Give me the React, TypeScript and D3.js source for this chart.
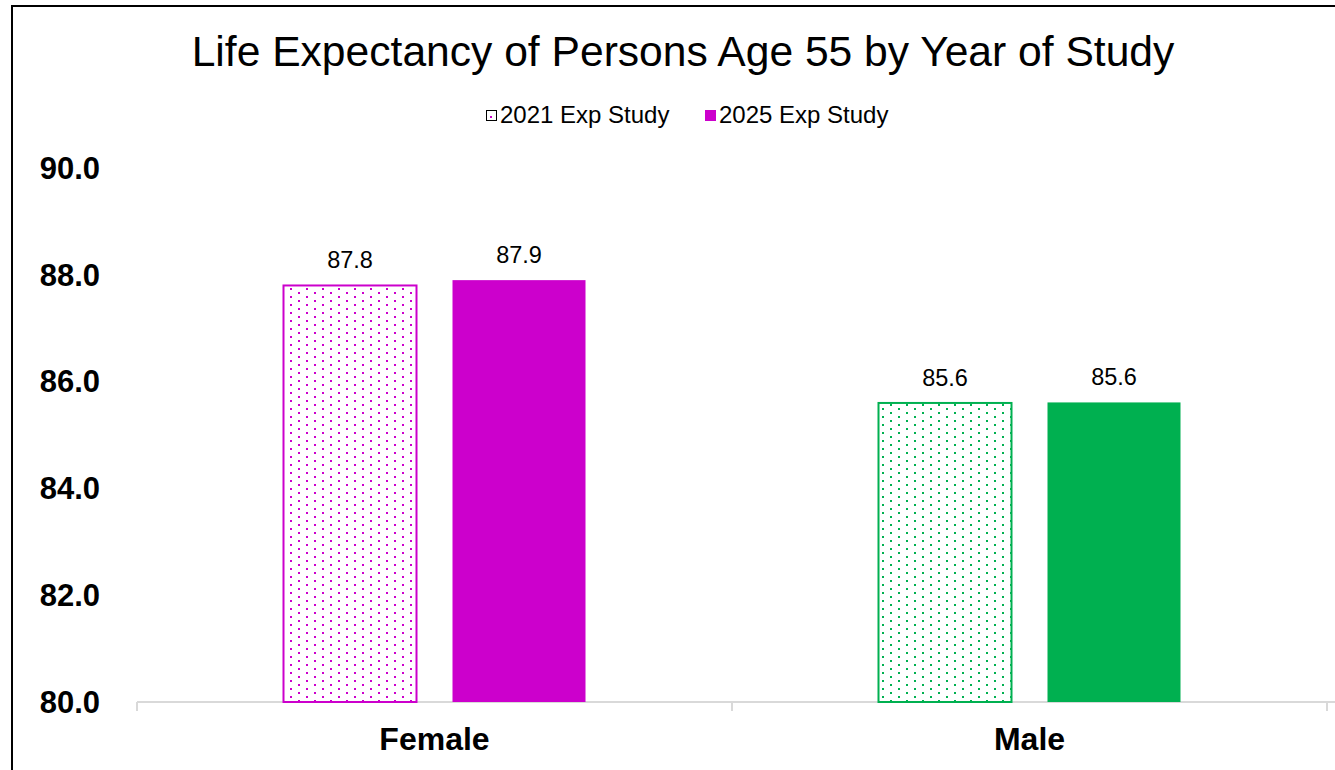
import { useEffect, useRef } from 'react';
import * as d3 from 'd3';

const categories = ['Female', 'Male'];
const seriesNames = ['2021 Exp Study', '2025 Exp Study'];
const values2021 = [87.8, 85.6];
const values2025 = [87.9, 85.61];
const yTicks = [80, 82, 84, 86, 88, 90];
const categoryColors = ['#CC00CC', '#00B050'];

const W = 1335;
const H = 770;

export default function App() {
  const svgRef = useRef<SVGSVGElement>(null);

  useEffect(() => {
    if (!svgRef.current) return;
    const svg = d3.select(svgRef.current);
    svg.selectAll('*').remove();

    const font = 'Liberation Sans, Arial, sans-serif';
    const defs = svg.append('defs');

    // dotted fills for the 2021 bars
    categoryColors.forEach((c, i) => {
      const p = defs.append('pattern')
        .attr('id', `dots-${i}`)
        .attr('patternUnits', 'userSpaceOnUse')
        .attr('width', 16)
        .attr('height', 8);
      p.append('rect').attr('width', 16).attr('height', 8).attr('fill', '#fff');
      p.append('rect').attr('x', 2).attr('y', 0).attr('width', 2).attr('height', 2).attr('fill', c);
      p.append('rect').attr('x', 10).attr('y', 4).attr('width', 2).attr('height', 2).attr('fill', c);
    });

    // chart frame (runs off the right and bottom edges)
    svg.append('rect')
      .attr('x', 12).attr('y', 6)
      .attr('width', W + 20).attr('height', H + 20)
      .attr('fill', '#fff')
      .attr('stroke', '#000')
      .attr('stroke-width', 2);

    const x = d3.scaleBand<string>()
      .domain(categories)
      .range([137, 1327]);

    const y = d3.scaleLinear()
      .domain([80, 90])
      .range([702, 168]);

    const barW = 133;
    const gap = 36;

    // title
    svg.append('text')
      .attr('x', 683).attr('y', 66)
      .attr('text-anchor', 'middle')
      .attr('font-family', font)
      .attr('font-size', '42.6px')
      .attr('fill', '#000')
      .text('Life Expectancy of Persons Age 55 by Year of Study');

    // legend
    const legend = [
      { x: 486, name: seriesNames[0], fill: 'url(#dots-0)', stroke: '#000' },
      { x: 705, name: seriesNames[1], fill: categoryColors[0], stroke: categoryColors[0] },
    ];
    legend.forEach(l => {
      svg.append('rect')
        .attr('x', l.x + 0.5).attr('y', 110.5)
        .attr('width', 10).attr('height', 10)
        .attr('fill', l.fill)
        .attr('stroke', l.stroke)
        .attr('stroke-width', 1);
      svg.append('text')
        .attr('x', l.x + 14).attr('y', 123)
        .attr('font-family', font)
        .attr('font-size', '24px')
        .attr('fill', '#000')
        .text(l.name);
    });

    // y tick labels
    yTicks.forEach(t => {
      svg.append('text')
        .attr('x', 100).attr('y', y(t))
        .attr('dy', '0.35em')
        .attr('text-anchor', 'end')
        .attr('font-family', font)
        .attr('font-weight', 'bold')
        .attr('font-size', '31px')
        .attr('fill', '#000')
        .text(t.toFixed(1));
    });

    // axis line + ticks
    svg.append('line')
      .attr('x1', 137).attr('x2', W + 10)
      .attr('y1', y(80)).attr('y2', y(80))
      .attr('stroke', '#d9d9d9').attr('stroke-width', 2);
    [...categories.map(c => x(c)!), 1327].forEach(t => {
      svg.append('line')
        .attr('x1', t).attr('x2', t)
        .attr('y1', y(80)).attr('y2', y(80) + 9)
        .attr('stroke', '#d9d9d9').attr('stroke-width', 2);
    });

    // bars
    categories.forEach((c, i) => {
      const cx = x(c)! + x.bandwidth() / 2;
      const x0 = cx - gap / 2 - barW;
      const x1 = cx + gap / 2;
      const color = categoryColors[i];

      svg.append('rect')
        .attr('x', x0).attr('y', y(values2021[i]))
        .attr('width', barW).attr('height', y(80) - y(values2021[i]))
        .attr('fill', `url(#dots-${i})`)
        .attr('stroke', color)
        .attr('stroke-width', 2);

      svg.append('rect')
        .attr('x', x1).attr('y', y(values2025[i]))
        .attr('width', barW).attr('height', y(80) - y(values2025[i]))
        .attr('fill', color);

      [[x0, values2021[i]], [x1, values2025[i]]].forEach(([bx, v]) => {
        svg.append('text')
          .attr('x', bx + barW / 2).attr('y', y(v) - 17)
          .attr('text-anchor', 'middle')
          .attr('font-family', font)
          .attr('font-size', '23.5px')
          .attr('fill', '#000')
          .text(v.toFixed(1));
      });

      svg.append('text')
        .attr('x', cx).attr('y', 750)
        .attr('text-anchor', 'middle')
        .attr('font-family', font)
        .attr('font-weight', 'bold')
        .attr('font-size', '32px')
        .attr('fill', '#000')
        .text(c);
    });
  }, []);

  return (
    <svg
      ref={svgRef}
      width={W}
      height={H}
      style={{ position: 'absolute', left: 0, top: 0, display: 'block' }}
    />
  );
}
